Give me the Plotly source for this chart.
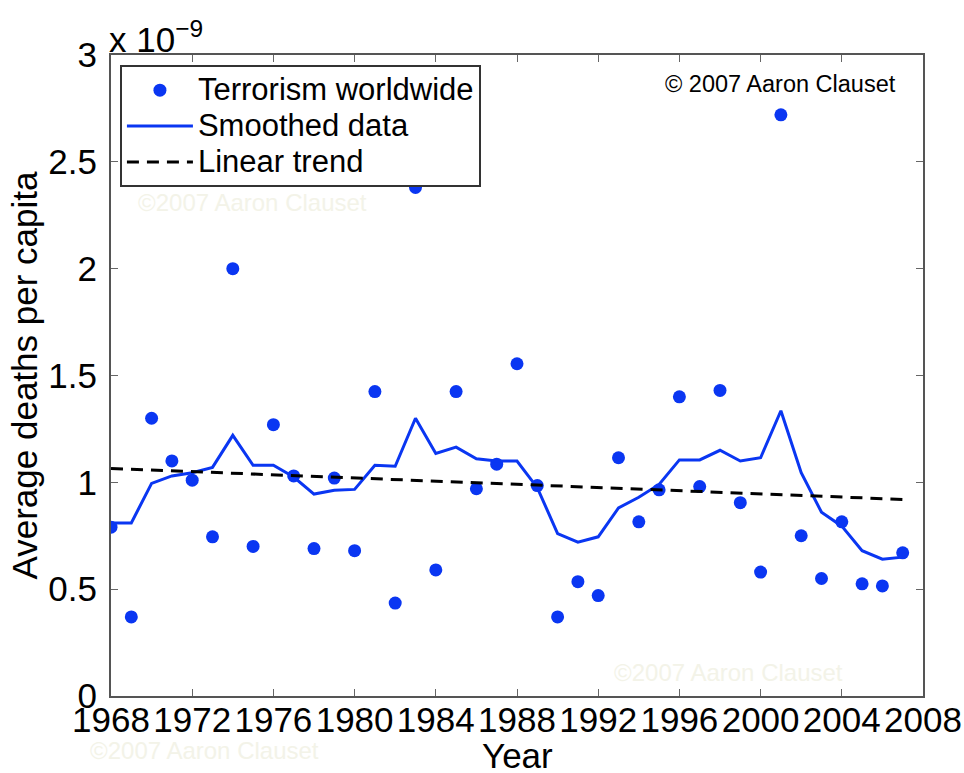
import plotly.graph_objects as go

years = list(range(1968, 2008))
deaths_per_capita = [0.79, 0.37, 1.30, 1.10, 1.01, 0.745, 2.00, 0.70, 1.27, 1.03,
                     0.69, 1.02, 0.68, 1.425, 0.435, 2.38, 0.59, 1.425, 0.97, 1.085,
                     1.555, 0.985, 0.37, 0.535, 0.47, 1.115, 0.815, 0.965, 1.40, 0.98,
                     1.43, 0.905, 0.58, 2.72, 0.75, 0.55, 0.815, 0.525, 0.515, 0.67]
smoothed = [0.81, 0.81, 0.995, 1.03, 1.045, 1.07, 1.22, 1.08, 1.08, 1.025,
            0.945, 0.963, 0.967, 1.08, 1.075, 1.30, 1.135, 1.165, 1.11, 1.10,
            1.10, 0.975, 0.76, 0.72, 0.745, 0.88, 0.93, 0.99, 1.105, 1.105,
            1.15, 1.10, 1.115, 1.335, 1.045, 0.86, 0.795, 0.68, 0.64, 0.65]
trend_years = [1968, 2007]
trend_values = [1.065, 0.92]
x_ticks = list(range(1968, 2009, 4))
y_ticks = [0, 0.5, 1, 1.5, 2, 2.5, 3]
y_tick_labels = ["0", "0.5", "1", "1.5", "2", "2.5", "3"]
series_names = ["Terrorism worldwide", "Smoothed data", "Linear trend"]

BLUE = "#0a36f2"
FONT = "Liberation Sans, Arial, sans-serif"


def legend_label(s):
    return "<span style='font-size:31px'>" + s + "</span>"


fig = go.Figure()
fig.add_trace(go.Scatter(x=years, y=deaths_per_capita, mode="markers",
                         name=legend_label(series_names[0]),
                         marker=dict(color=BLUE, size=13)))
fig.add_trace(go.Scatter(x=years, y=smoothed, mode="lines",
                         name=legend_label(series_names[1]),
                         line=dict(color=BLUE, width=3)))
fig.add_trace(go.Scatter(x=trend_years, y=trend_values, mode="lines",
                         name=legend_label(series_names[2]),
                         line=dict(color="black", width=3, dash="12px,8px")))

axis_common = dict(showline=True, linecolor="#555555", linewidth=2, mirror="ticks",
                   ticks="inside", ticklen=7, tickcolor="#666666", tickwidth=1,
                   showgrid=False, zeroline=False, automargin=False,
                   tickfont=dict(family=FONT, size=35, color="black"))

fig.update_layout(
    width=964, height=773,
    margin=dict(l=111, r=41, t=55, b=77),
    paper_bgcolor="white", plot_bgcolor="white",
    font=dict(family=FONT, color="black"),
    xaxis=dict(range=[1968, 2008], tickvals=x_ticks, ticklabelstandoff=-8,
               **axis_common),
    yaxis=dict(range=[0, 3], tickvals=y_ticks, ticktext=y_tick_labels,
               ticklabelstandoff=5,
               title=dict(text="Average deaths per capita", font=dict(size=35, family=FONT),
                          standoff=0),
               **axis_common),
    showlegend=True,
    legend=dict(x=0.011, y=0.984, xanchor="left", yanchor="top",
                bgcolor="white", bordercolor="#333333", borderwidth=2,
                font=dict(family=FONT, size=25.3, color="black"),
                tracegroupgap=0, itemwidth=66),
)

fig.add_annotation(text="Year", xref="paper", yref="paper", x=0.5, y=0,
                   xanchor="center", yanchor="middle", yshift=-59, showarrow=False,
                   font=dict(family=FONT, size=35, color="black"))
fig.add_annotation(text="x 10<sup>\u22129</sup>", xref="paper", yref="paper",
                   x=0, y=1, xanchor="left", yanchor="bottom", yshift=-6, xshift=-4,
                   showarrow=False, font=dict(family=FONT, size=35, color="black"))
fig.add_annotation(text="\u00a9 2007 Aaron Clauset", xref="paper", yref="paper",
                   x=0.969, y=0.978, xanchor="right", yanchor="top",
                   showarrow=False, font=dict(family=FONT, size=23.5, color="black"))
for wx, wy in [(0.174, 0.77), (0.76, 0.037), (0.115, -0.085)]:
    fig.add_annotation(text="\u00a92007 Aaron Clauset", xref="paper", yref="paper",
                       x=wx, y=wy, xanchor="center", yanchor="middle", showarrow=False,
                       font=dict(family=FONT, size=24, color="#f3f3e8"))

fig.write_html("out.html", config={"displayModeBar": False},
               post_script="document.body.style.margin='0px';document.body.style.overflow='hidden';")
